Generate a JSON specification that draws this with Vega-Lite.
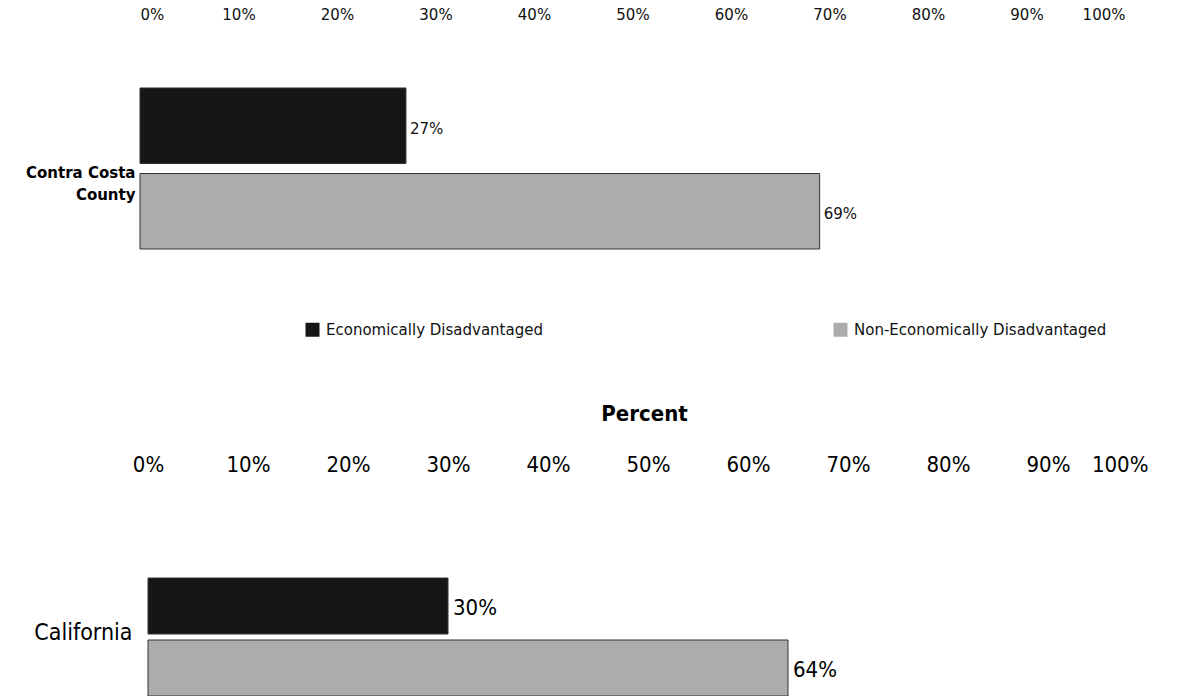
{
  "$schema": "https://vega.github.io/schema/vega-lite/v6.json",
  "padding": 0,
  "autosize": {"type": "pad"},
  "background": "white",
  "bounds": "flush",
  "spacing": 193,
  "config": {
    "view": {"stroke": null},
    "axis": {"domain": false, "ticks": false, "grid": false, "tickSize": 0}
  },
  "data": {
    "values": [
      {"chart": "Contra Costa County", "group": "Economically Disadvantaged", "value": 0.27},
      {"chart": "Contra Costa County", "group": "Non-Economically Disadvantaged", "value": 0.69},
      {"chart": "California", "group": "Economically Disadvantaged", "value": 0.30},
      {"chart": "California", "group": "Non-Economically Disadvantaged", "value": 0.64}
    ]
  },
  "resolve": {
    "scale": {"color": "independent", "x": "independent", "y": "independent", "yOffset": "independent"},
    "legend": {"color": "independent"}
  },
  "vconcat": [
    {
      "width": 985,
      "height": 257,
      "transform": [{"filter": "datum.chart === 'Contra Costa County'"}],
      "encoding": {
        "y": {
          "field": "chart", "type": "nominal",
          "scale": {"paddingOuter": 0.298, "paddingInner": 0},
          "axis": {
            "title": null, "labelFont": "DejaVu Sans", "labelFontWeight": "bold", "labelFontSize": 15,
            "labelColor": "#000", "labelPadding": 5, "minExtent": 140, "maxExtent": 140,
            "labelLineHeight": 22, "labelOffset": 4,
            "labelExpr": "datum.label == 'Contra Costa County' ? ['Contra Costa', 'County'] : datum.label"
          }
        },
        "yOffset": {
          "field": "group", "type": "nominal",
          "sort": ["Economically Disadvantaged", "Non-Economically Disadvantaged"],
          "scale": {"paddingInner": 0.117, "paddingOuter": 0}
        },
        "x": {
          "field": "value", "type": "quantitative",
          "scale": {"domain": [0, 1]},
          "axis": {
            "orient": "top", "title": null,
            "values": [0, 0.1, 0.2, 0.3, 0.4, 0.5, 0.6, 0.7, 0.8, 0.9, 1],
            "format": ".0%", "labelFont": "DejaVu Sans", "labelFontSize": 15, "labelColor": "#111",
            "labelPadding": 18, "minExtent": 40, "maxExtent": 40
          }
        }
      },
      "layer": [
        {
          "mark": {"type": "bar", "stroke": "#333", "strokeWidth": 1},
          "encoding": {
            "color": {
              "field": "group", "type": "nominal",
              "scale": {"domain": ["Economically Disadvantaged", "Non-Economically Disadvantaged"], "range": ["#161616", "#acacac"]},
              "legend": {
                "orient": "none", "legendX": 165, "legendY": 282, "direction": "horizontal",
                "title": null, "symbolType": "square", "symbolSize": 196, "symbolStrokeWidth": 0,
                "labelFont": "DejaVu Sans", "labelFontSize": 15, "labelColor": "#111", "labelLimit": 500,
                "labelOffset": 6, "columnPadding": 290, "padding": 0
              }
            }
          }
        },
        {
          "mark": {"type": "text", "align": "left", "dx": 4, "dy": 3, "font": "DejaVu Sans", "fontSize": 15, "color": "#111"},
          "encoding": {"text": {"field": "value", "type": "quantitative", "format": ".0%"}}
        }
      ]
    },
    {
      "width": 1008,
      "height": 206,
      "transform": [{"filter": "datum.chart === 'California'"}],
      "encoding": {
        "y": {
          "field": "chart", "type": "nominal",
          "scale": {"paddingOuter": 0.373, "paddingInner": 0, "align": 1},
          "axis": {
            "title": null, "labelFont": "Liberation Sans Narrow, DejaVu Sans Condensed, sans-serif",
            "labelFontSize": 23, "labelColor": "#000", "labelPadding": 8, "minExtent": 140, "labelOffset": -4
          }
        },
        "yOffset": {
          "field": "group", "type": "nominal",
          "sort": ["Economically Disadvantaged", "Non-Economically Disadvantaged"],
          "scale": {"paddingInner": 0.097, "paddingOuter": 0}
        },
        "x": {
          "field": "value", "type": "quantitative",
          "scale": {"domain": [-0.008, 1]},
          "axis": {
            "orient": "top", "title": "Percent",
            "titleFont": "Liberation Sans Narrow, DejaVu Sans Condensed, sans-serif",
            "titleFontWeight": "bold", "titleFontSize": 22, "titleColor": "#000", "titlePadding": 28,
            "values": [0, 0.1, 0.2, 0.3, 0.4, 0.5, 0.6, 0.7, 0.8, 0.9, 1],
            "format": ".0%", "labelFont": "Liberation Sans Narrow, DejaVu Sans Condensed, sans-serif",
            "labelFontSize": 22, "labelColor": "#000", "labelPadding": 14
          }
        }
      },
      "layer": [
        {
          "mark": {"type": "bar", "stroke": "#333", "strokeWidth": 1},
          "encoding": {
            "color": {
              "field": "group", "type": "nominal",
              "scale": {"domain": ["Economically Disadvantaged", "Non-Economically Disadvantaged"], "range": ["#161616", "#acacac"]},
              "legend": null
            }
          }
        },
        {
          "mark": {"type": "text", "align": "left", "dx": 5, "dy": 2, "font": "Liberation Sans Narrow, DejaVu Sans Condensed, sans-serif", "fontSize": 22, "color": "#000"},
          "encoding": {"text": {"field": "value", "type": "quantitative", "format": ".0%"}}
        }
      ]
    }
  ]
}
